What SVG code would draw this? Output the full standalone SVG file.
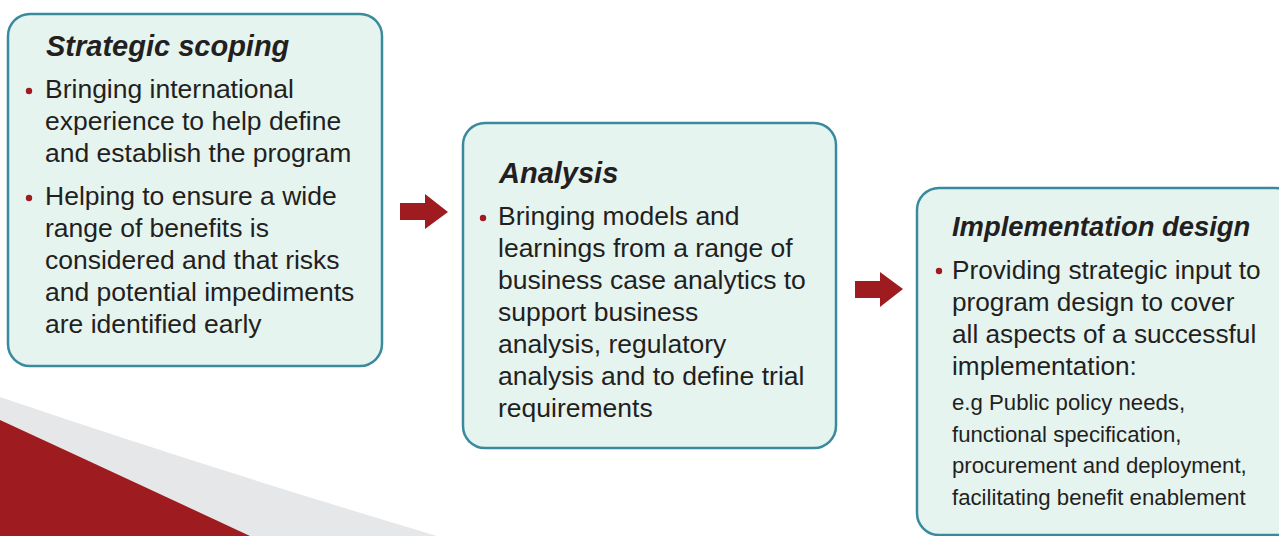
<svg xmlns="http://www.w3.org/2000/svg" width="1279" height="536" viewBox="0 0 1279 536">
<defs>
<style>
.box{fill:#e6f4f0;stroke:#3a8a9e;stroke-width:2.5}
.t{font-family:"Liberation Sans",Arial,sans-serif;font-size:29px;font-weight:bold;font-style:italic;fill:#231f20}
.b{font-family:"Liberation Sans",Arial,sans-serif;font-size:26.5px;fill:#231f20}
.s{font-family:"Liberation Sans",Arial,sans-serif;font-size:22.2px;fill:#231f20}
.dot{fill:#9e1c20}
.arr{fill:#9e1c20}
</style>
</defs>
<rect width="1279" height="536" fill="#ffffff"/>
<g id="swoosh">
<path d="M0,397 Q200,465 437,536 L0,536 Z" fill="#e6e7e8"/>
<path d="M0,420 Q130,480 250,536 L0,536 Z" fill="#9e1c20"/>
</g>
<g id="node-strategic">
<rect class="box" x="8" y="14" width="374" height="352" rx="22"/>
<text class="t" x="46" y="56">Strategic scoping</text>
<circle class="dot" cx="29" cy="91" r="3.2"/>
<text class="b" x="45" y="98">Bringing international</text>
<text class="b" x="45" y="130">experience to help define</text>
<text class="b" x="45" y="162">and establish the program</text>
<circle class="dot" cx="29" cy="198" r="3.2"/>
<text class="b" x="45" y="205">Helping to ensure a wide</text>
<text class="b" x="45" y="237">range of benefits is</text>
<text class="b" x="45" y="269">considered and that risks</text>
<text class="b" x="45" y="301">and potential impediments</text>
<text class="b" x="45" y="333">are identified early</text>
</g>
<g id="node-analysis">
<rect class="box" x="463" y="123" width="373" height="325" rx="22"/>
<text class="t" x="499" y="183">Analysis</text>
<circle class="dot" cx="483" cy="218" r="3.2"/>
<text class="b" x="498" y="225">Bringing models and</text>
<text class="b" x="498" y="257">learnings from a range of</text>
<text class="b" x="498" y="289">business case analytics to</text>
<text class="b" x="498" y="321">support business</text>
<text class="b" x="498" y="353">analysis, regulatory</text>
<text class="b" x="498" y="385">analysis and to define trial</text>
<text class="b" x="498" y="417">requirements</text>
</g>
<g id="node-implementation">
<rect class="box" x="917" y="188" width="380" height="347" rx="22"/>
<text class="t" x="952" y="236" style="font-size:27.4px">Implementation design</text>
<circle class="dot" cx="939" cy="271" r="3.2"/>
<text class="b" x="952" y="279" style="font-size:26.2px">Providing strategic input to</text>
<text class="b" x="952" y="311" style="font-size:26.2px">program design to cover</text>
<text class="b" x="952" y="343" style="font-size:26.2px">all aspects of a successful</text>
<text class="b" x="952" y="375" style="font-size:26.2px">implementation:</text>
<text class="s" x="952" y="410">e.g Public policy needs,</text>
<text class="s" x="952" y="442">functional specification,</text>
<text class="s" x="952" y="473">procurement and deployment,</text>
<text class="s" x="952" y="505">facilitating benefit enablement</text>
</g>
<g id="connectors">
<path class="arr" d="M400,203 L425,203 L425,194 L448,212 L425,229 L425,220 L400,220 Z"/>
<path class="arr" d="M855,281 L880,281 L880,272 L903,289 L880,307 L880,298 L855,298 Z"/>
</g>
</svg>
